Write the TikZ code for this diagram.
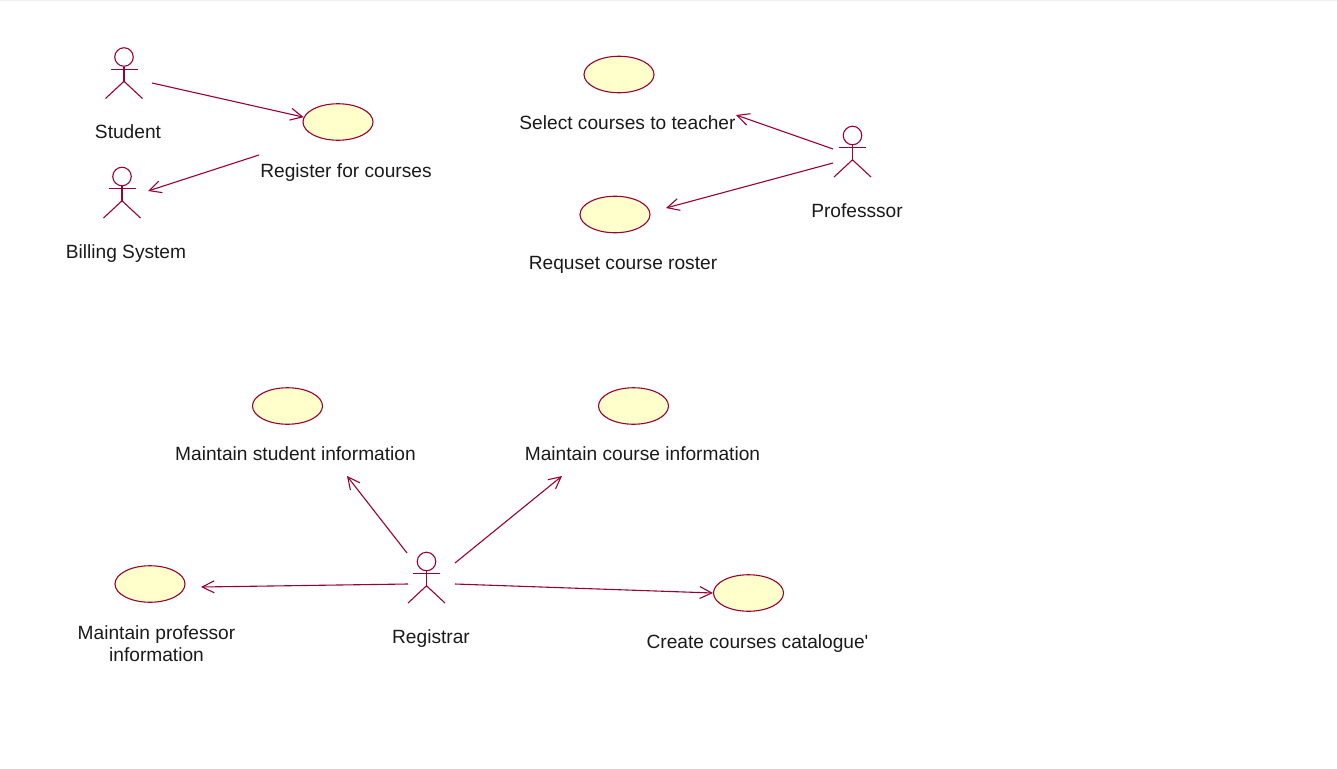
\documentclass[tikz,border=0pt]{standalone}
\usepackage{fontspec}
\setmainfont[Ligatures=TeXOff]{Liberation Sans}
\usetikzlibrary{arrows.meta,shapes.geometric}
\definecolor{rosered}{HTML}{990033}
\definecolor{ucfill}{HTML}{FFFFCC}
\definecolor{inktext}{HTML}{1A1A1A}
\definecolor{topedge}{HTML}{F0F0F0}
\tikzset{
  usecase/.style={draw=rosered,fill=ucfill,ellipse,minimum width=70pt,minimum height=36.5pt,inner sep=0pt,line width=1.1pt},
  lbl/.style={text=inktext,font=\fontsize{19.15}{22}\selectfont,inner sep=0pt,align=center},
  bl/.style={lbl,anchor=base},
  actorhead/.style={draw=rosered,circle,minimum size=18.5pt,inner sep=0pt,line width=1.1pt},
  actorline/.style={draw=rosered,line width=1.1pt},
  assoc/.style={draw=rosered,line width=1.1pt,-{Straight Barb[length=12pt,width=12pt,line width=1.1pt]}},
}
\newcommand{\umlactor}[3]{%
  \node[actorhead] (#1) at (#2,#3) {};
  \draw[actorline] (#1.south) -- ++(0,14.5) coordinate (#1hip);
  \draw[actorline] ([shift={(-13.5,12.3)}]#1.center) -- ([shift={(13.5,12.3)}]#1.center);
  \draw[actorline] ([shift={(-18.5,41.5)}]#1.center) -- (#1hip) -- ([shift={(18.5,41.5)}]#1.center);
}
\begin{document}
\begin{tikzpicture}[x=1pt,y=-1pt]
\useasboundingbox (0,0) rectangle (1337,768);
\fill[topedge] (0,0) rectangle (1337,1);
% actors
\umlactor{student}{124}{57}
\umlactor{billing}{122}{176.5}
\umlactor{professor}{852.5}{135.5}
\umlactor{registrar}{426.5}{561.5}
% use cases
\node[usecase] (register) at (338,122) {};
\node[usecase] (select) at (619,74.5) {};
\node[usecase] (request) at (615,214.5) {};
\node[usecase] (mstudent) at (287.5,406) {};
\node[usecase] (mcourse) at (633.5,406) {};
\node[usecase] (mprof) at (150,584) {};
\node[usecase] (catalogue) at (748.5,593) {};
% labels
\node[bl] (lstudent) at (128,138) {Student};
\node[bl] (lbilling) at (126,258) {Billing System};
\node[bl] (lregister) at (346,177) {Register for courses};
\node[bl] (lselect) at (627.5,129) {Select courses to teacher};
\node[bl] (lrequest) at (623,269) {Requset course roster};
\node[bl] (lprofessor) at (857,217) {Professsor};
\node[bl] (lmstudent) at (295.5,460.5) {Maintain student information};
\node[bl] (lmcourse) at (642.5,460.5) {Maintain course information};
\node[lbl] (lmprof) at (156.5,644) {Maintain professor\\information};
\node[bl] (lregistrar) at (431,643) {Registrar};
\node[bl] (lcatalogue) at (757.5,648) {Create courses catalogue'};
% connector ends
\coordinate (sOut) at (152,83);
\coordinate (rOut) at (259,155);
\coordinate (bIn) at (148,191);
\coordinate (pOutA) at (833,149);
\coordinate (selIn) at (736,115);
\coordinate (pOutB) at (833,163);
\coordinate (reqIn) at (666,208);
\coordinate (regA) at (407,553);
\coordinate (msIn) at (347,476);
\coordinate (regB) at (455,563);
\coordinate (mcIn) at (562,476);
\coordinate (regC) at (408,584);
\coordinate (mpIn) at (201,587);
\coordinate (regD) at (455,584);
% connectors
\draw[assoc] (sOut) -- (register.172);
\draw[assoc] (rOut) -- (bIn);
\draw[assoc] (pOutA) -- (selIn);
\draw[assoc] (pOutB) -- (reqIn);
\draw[assoc] (regA) -- (msIn);
\draw[assoc] (regB) -- (mcIn);
\draw[assoc] (regC) -- (mpIn);
\draw[assoc] (regD) -- (catalogue.west);
\end{tikzpicture}
\end{document}
